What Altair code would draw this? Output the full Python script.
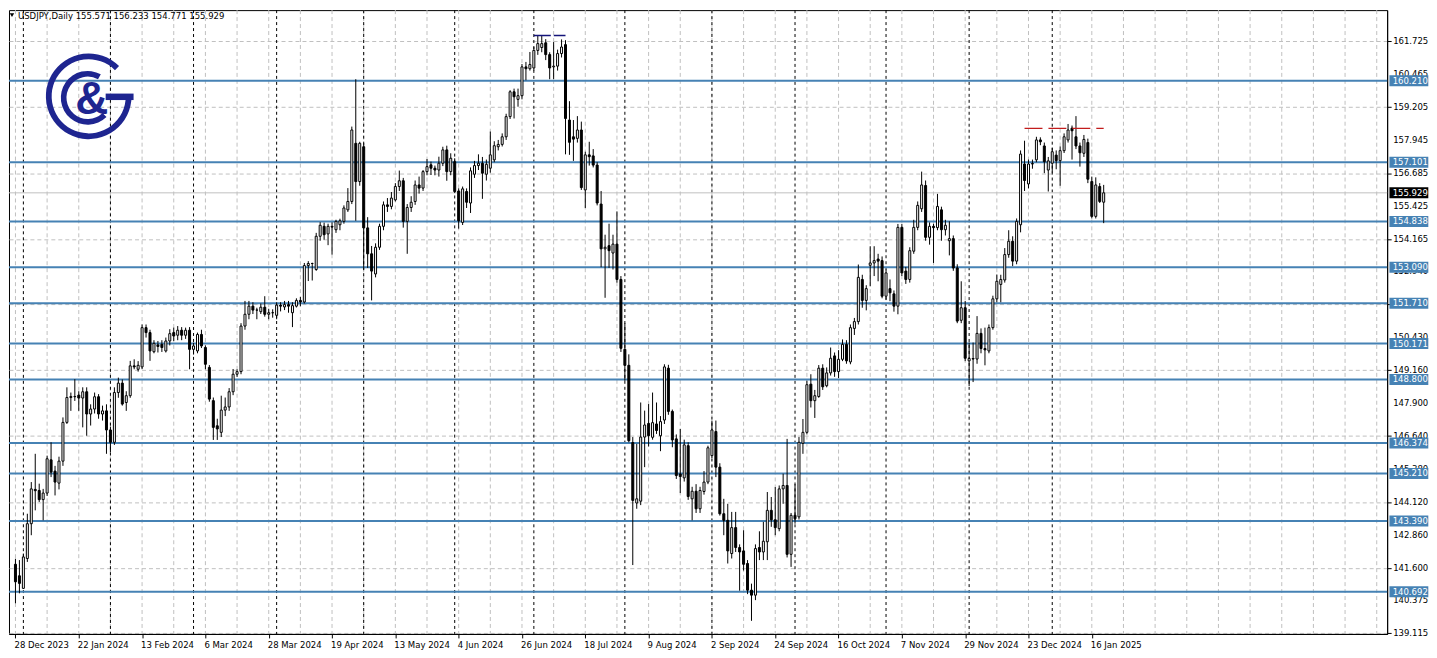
import json
import altair as alt
import pandas as pd

# ---------------- data ----------------
opens = [
    141.74, 141.30, 140.82, 141.96, 143.29, 144.60, 144.56, 144.21, 144.46, 145.73,
    145.30, 144.84, 145.68, 147.16, 148.11, 148.15, 148.20, 148.09, 148.33, 147.48,
    147.67, 148.14, 147.48, 147.60, 146.87, 146.40, 148.30, 148.66, 147.92, 148.18,
    149.32, 149.19, 149.28, 150.78, 150.59, 149.86, 150.12, 150.14, 149.89, 150.27,
    150.59, 150.49, 150.68, 150.49, 150.68, 149.95, 149.89, 150.52, 150.02, 149.26,
    147.99, 147.03, 146.78, 147.63, 147.75, 148.33, 149.00, 149.10, 150.84, 151.29,
    151.60, 151.45, 151.39, 151.56, 151.29, 151.35, 151.25, 151.64, 151.57, 151.66,
    151.35, 151.60, 151.82, 151.76, 153.15, 153.23, 153.00, 154.27, 154.65, 154.36,
    154.65, 154.52, 154.71, 154.84, 155.28, 155.60, 157.82, 156.36, 157.69, 154.59,
    153.60, 152.83, 153.85, 154.65, 155.47, 155.41, 155.66, 156.17, 156.39, 154.84,
    155.37, 155.60, 156.23, 156.11, 156.74, 157.00, 156.87, 156.80, 157.06, 157.57,
    156.74, 157.12, 156.00, 154.80, 155.98, 155.54, 156.64, 156.97, 157.06, 156.64,
    156.87, 157.19, 157.69, 157.78, 158.07, 158.84, 159.79, 159.50, 159.64, 160.74,
    160.67, 160.70, 161.37, 161.48, 161.66, 161.21, 160.74, 160.77, 161.25, 161.59,
    158.71, 158.07, 158.01, 158.33, 156.04, 157.38, 157.34, 156.99, 155.50, 153.79,
    153.91, 153.63, 153.97, 152.62, 149.95, 149.34, 146.39, 144.08, 144.15, 146.60,
    147.12, 146.59, 147.10, 146.65, 147.25, 149.23, 147.58, 146.53, 145.19, 145.04,
    146.27, 144.24, 144.53, 143.86, 144.52, 144.88, 145.89, 146.81, 145.45, 143.67,
    143.42, 142.15, 143.14, 142.38, 142.25, 141.77, 140.75, 140.56, 142.38, 142.21,
    142.60, 143.80, 143.44, 143.10, 144.62, 144.75, 142.12, 143.61, 143.55, 146.36,
    146.78, 148.62, 147.99, 148.15, 149.23, 148.56, 149.05, 149.70, 149.10, 149.57,
    150.14, 149.47, 150.75, 151.01, 152.62, 151.82, 153.16, 153.25, 153.40, 153.34,
    151.98, 152.27, 152.07, 151.60, 154.61, 152.94, 152.62, 153.70, 154.61, 155.32,
    156.21, 154.23, 154.65, 154.60, 155.28, 154.52, 154.10, 154.18, 153.06, 151.06,
    151.54, 149.51, 149.60, 149.58, 150.56, 149.98, 149.89, 150.78, 151.88, 152.43,
    152.60, 153.57, 154.08, 153.32, 154.71, 157.03, 156.27, 157.03, 157.19, 157.95,
    157.72, 156.80, 157.06, 157.37, 157.16, 157.54, 157.95, 158.40, 158.07, 157.72,
    157.44, 157.85, 156.36, 155.03, 156.17, 155.571,
]
highs = [
    141.95, 141.90, 142.15, 143.67, 144.88, 145.96, 144.82, 144.62, 145.89, 146.40,
    145.50, 145.85, 147.35, 148.50, 148.30, 148.81, 148.35, 148.50, 148.50, 147.85,
    148.30, 148.24, 147.80, 147.85, 147.00, 148.50, 148.87, 148.80, 148.35, 149.51,
    149.57, 149.50, 150.90, 150.90, 150.70, 150.30, 150.27, 150.30, 150.40, 150.72,
    150.78, 150.84, 150.80, 150.78, 150.80, 150.20, 150.59, 150.70, 150.10, 149.35,
    148.11, 147.30, 148.18, 148.11, 148.47, 149.20, 149.19, 150.95, 151.80, 151.80,
    151.75, 151.54, 151.70, 151.98, 151.50, 151.48, 151.75, 151.75, 151.80, 151.80,
    151.75, 151.90, 151.95, 153.25, 153.32, 153.26, 154.40, 154.81, 154.79, 154.75,
    154.80, 154.90, 154.94, 155.45, 156.11, 158.46, 160.27, 157.88, 157.82, 155.00,
    153.90, 154.00, 154.75, 155.60, 155.73, 155.96, 156.30, 156.78, 156.50, 155.50,
    155.80, 156.40, 156.55, 156.80, 157.22, 157.12, 156.97, 157.31, 157.69, 157.73,
    157.44, 157.25, 156.10, 156.17, 156.10, 156.90, 157.15, 157.40, 157.30, 157.20,
    158.27, 157.90, 157.95, 158.20, 158.95, 159.85, 159.91, 159.91, 160.85, 160.93,
    161.31, 161.50, 161.94, 161.94, 161.80, 161.30, 161.69, 161.40, 161.79, 161.76,
    159.43, 158.71, 158.86, 158.65, 157.50, 157.88, 157.60, 157.10, 156.00, 154.33,
    154.75, 154.33, 155.22, 152.75, 150.95, 149.76, 146.60, 146.34, 147.92, 147.61,
    147.86, 148.30, 147.92, 147.40, 149.38, 149.36, 147.65, 146.70, 146.91, 146.50,
    146.40, 144.70, 144.80, 144.70, 145.30, 146.27, 147.23, 147.23, 145.60, 144.24,
    144.05, 143.74, 143.74, 142.50, 143.04, 141.90, 141.00, 142.50, 143.00, 143.36,
    144.50, 144.31, 144.69, 144.75, 145.20, 146.53, 143.70, 144.80, 146.60, 147.29,
    148.75, 149.00, 148.40, 149.35, 149.38, 149.26, 150.02, 149.83, 149.92, 150.33,
    150.30, 150.90, 151.15, 153.19, 152.80, 152.40, 153.89, 153.89, 153.60, 153.50,
    153.00, 152.62, 152.20, 154.74, 154.74, 153.10, 153.85, 154.90, 155.60, 156.74,
    156.40, 154.80, 154.75, 155.89, 155.40, 154.90, 154.84, 154.30, 153.20, 152.55,
    151.80, 150.21, 150.21, 151.22, 150.75, 150.78, 150.90, 152.00, 152.81, 152.80,
    153.82, 154.50, 154.27, 154.95, 157.55, 157.92, 157.20, 157.20, 158.07, 158.05,
    157.85, 157.30, 157.65, 157.55, 157.70, 158.20, 158.56, 158.50, 158.86, 157.85,
    158.14, 158.00, 156.55, 156.52, 156.30, 156.233,
]
lows = [
    140.25, 140.63, 140.80, 141.83, 142.85, 143.80, 144.12, 143.42, 144.35, 145.07,
    144.37, 144.60, 145.50, 147.10, 147.60, 147.98, 147.60, 146.97, 146.65, 147.04,
    147.50, 147.30, 147.23, 145.96, 146.02, 146.30, 148.10, 147.80, 147.60, 148.10,
    149.19, 149.10, 149.20, 150.40, 149.51, 149.80, 149.83, 149.85, 149.83, 150.10,
    150.27, 150.30, 150.30, 150.35, 149.19, 149.75, 149.80, 150.00, 149.19, 147.95,
    146.49, 146.49, 146.60, 147.40, 147.60, 148.20, 148.90, 149.00, 150.70, 151.10,
    151.30, 151.10, 151.30, 151.20, 151.10, 151.16, 151.10, 151.40, 151.45, 151.35,
    150.80, 151.55, 151.60, 151.70, 152.56, 152.58, 152.95, 154.10, 154.14, 153.93,
    153.57, 154.40, 154.50, 154.75, 155.20, 155.50, 154.86, 156.20, 153.00, 153.06,
    151.82, 152.70, 153.75, 154.50, 155.20, 155.30, 155.60, 156.00, 154.60, 153.60,
    155.20, 155.47, 155.90, 156.00, 156.60, 156.61, 156.60, 156.55, 156.95, 156.39,
    156.60, 155.92, 154.56, 154.70, 155.35, 155.16, 156.50, 156.80, 155.70, 156.40,
    156.70, 157.10, 157.55, 157.70, 157.95, 158.75, 158.77, 159.22, 159.50, 160.23,
    160.60, 160.60, 161.20, 161.30, 161.00, 160.27, 160.27, 160.60, 161.10, 157.40,
    157.38, 157.15, 157.85, 156.04, 155.35, 156.97, 156.90, 155.45, 153.09, 151.92,
    153.06, 153.00, 152.50, 149.85, 148.75, 146.40, 141.71, 143.86, 144.00, 145.45,
    146.24, 146.50, 146.72, 146.06, 147.10, 147.45, 146.21, 145.00, 144.46, 144.90,
    144.20, 143.42, 143.70, 143.70, 144.40, 144.80, 145.80, 145.07, 143.60, 142.85,
    141.77, 141.96, 142.21, 140.73, 141.50, 140.60, 139.58, 140.37, 141.90, 141.90,
    141.90, 143.17, 142.85, 143.00, 144.05, 142.00, 141.64, 143.29, 143.45, 145.96,
    146.70, 147.73, 147.33, 148.10, 148.40, 148.50, 148.95, 148.90, 148.85, 149.50,
    149.40, 149.38, 150.50, 150.90, 151.54, 151.44, 152.36, 152.75, 152.55, 151.90,
    151.85, 151.79, 151.39, 151.29, 152.75, 152.45, 152.50, 153.60, 154.50, 155.20,
    154.10, 153.95, 153.25, 154.50, 154.10, 154.30, 153.54, 152.95, 150.95, 150.95,
    149.50, 148.55, 148.70, 149.40, 149.80, 149.34, 149.80, 150.70, 151.75, 151.75,
    152.50, 153.45, 153.13, 153.20, 154.42, 156.00, 156.10, 156.85, 157.10, 157.75,
    156.68, 155.98, 156.70, 156.83, 156.20, 157.45, 157.85, 157.20, 157.60, 156.93,
    157.30, 156.30, 154.95, 154.95, 155.54, 154.771,
]
closes = [
    141.07, 141.01, 142.02, 143.29, 144.62, 144.55, 144.21, 144.46, 145.77, 145.26,
    144.88, 145.68, 147.16, 148.11, 148.15, 148.14, 148.09, 148.33, 147.48, 147.67,
    148.14, 147.48, 147.60, 146.87, 146.40, 148.30, 148.66, 147.86, 148.18, 149.32,
    149.28, 149.34, 150.78, 150.59, 149.89, 150.18, 150.06, 150.02, 150.27, 150.55,
    150.46, 150.68, 150.49, 150.68, 149.95, 150.08, 150.52, 150.08, 149.38, 148.05,
    146.97, 146.91, 147.63, 147.75, 148.33, 149.00, 149.10, 150.84, 151.29, 151.60,
    151.45, 151.45, 151.56, 151.29, 151.35, 151.35, 151.64, 151.60, 151.66, 151.60,
    151.62, 151.82, 151.76, 153.15, 153.23, 153.23, 154.27, 154.69, 154.33, 154.65,
    154.62, 154.84, 154.86, 155.35, 155.60, 158.33, 156.36, 157.82, 154.59, 153.60,
    152.94, 153.85, 154.65, 155.47, 155.41, 155.73, 156.17, 156.39, 154.84, 155.37,
    155.57, 156.23, 156.11, 156.74, 156.93, 156.87, 156.80, 157.06, 157.57, 156.74,
    157.25, 155.98, 154.86, 156.08, 155.57, 156.77, 156.97, 157.06, 156.68, 157.02,
    157.38, 157.73, 157.78, 158.07, 158.84, 159.79, 159.60, 159.64, 160.74, 160.67,
    160.83, 161.37, 161.63, 161.63, 161.21, 160.70, 160.77, 161.25, 161.50, 158.77,
    157.86, 157.98, 158.33, 156.13, 157.38, 157.31, 156.99, 155.54, 153.79, 153.85,
    153.72, 153.97, 152.62, 149.99, 149.34, 146.46, 144.18, 144.24, 146.60, 147.06,
    146.65, 147.15, 146.85, 147.19, 149.28, 147.58, 146.49, 145.13, 145.09, 146.30,
    144.33, 144.53, 143.86, 144.56, 144.88, 146.19, 146.87, 145.45, 143.67, 143.42,
    142.25, 143.14, 142.38, 142.21, 141.74, 140.75, 140.56, 142.34, 142.21, 142.62,
    143.80, 143.44, 143.14, 144.62, 144.75, 142.12, 143.61, 143.48, 146.40, 146.78,
    148.60, 147.99, 148.18, 149.23, 148.52, 149.05, 149.61, 149.10, 149.57, 150.14,
    149.51, 150.78, 151.01, 152.70, 151.82, 152.27, 153.25, 153.34, 153.32, 151.98,
    152.87, 152.11, 151.60, 154.61, 152.87, 152.62, 153.72, 154.61, 155.45, 156.23,
    154.23, 154.65, 154.60, 155.41, 154.52, 154.69, 154.18, 153.06, 151.03, 151.54,
    149.61, 149.60, 149.58, 150.56, 149.98, 149.93, 150.78, 151.88, 152.55, 152.62,
    153.57, 154.08, 153.32, 154.84, 157.41, 156.40, 157.03, 157.05, 157.95, 157.88,
    157.12, 157.15, 157.50, 157.16, 157.54, 158.07, 158.33, 158.30, 157.72, 157.46,
    157.97, 156.45, 155.03, 156.23, 155.60, 155.929,
]

date_labels = [
    "28 Dec 2023", "22 Jan 2024", "13 Feb 2024", "6 Mar 2024", "28 Mar 2024",
    "19 Apr 2024", "13 May 2024", "4 Jun 2024", "26 Jun 2024", "18 Jul 2024",
    "9 Aug 2024", "2 Sep 2024", "24 Sep 2024", "16 Oct 2024", "7 Nov 2024",
    "29 Nov 2024", "23 Dec 2024", "16 Jan 2025",
]
date_label_bars = [0, 16, 32, 48, 64, 80, 96, 112, 128, 144, 160, 176, 192, 208, 224, 240, 256, 272]
month_start_bars = [2, 24, 45, 66, 88, 111, 131, 154, 176, 197, 220, 241, 262]
grid_bars = [0, 8, 16, 24, 32, 40, 48, 56, 64, 72, 80, 88, 96, 104, 112, 120, 128, 136,
             144, 152, 160, 168, 176, 184, 192, 200, 208, 216, 224, 232, 240, 248, 256,
             264, 272, 280, 288, 296, 304, 312, 320, 328, 336, 344]
price_ticks = [161.725, 160.465, 159.205, 157.945, 156.685, 155.425, 154.165, 152.940,
               151.680, 150.430, 149.160, 147.900, 146.640, 145.380, 144.120, 142.860,
               141.600, 140.375, 139.115]
level_values = [160.210, 157.101, 154.838, 153.090, 151.710, 150.171, 148.800,
                146.374, 145.210, 143.390, 140.692]
last_price = 155.929
top_marker = {"from": 131, "to": 139, "price": 161.94}
recent_marker = {"from": 255, "to": 275, "price": 158.39}
header_text = "USDJPY,Daily  155.571 156.233 154.771 155.929"

# ---------------- layout / style ----------------
FONT = "DejaVu Sans Condensed, Liberation Sans, sans-serif"
FS = 9.5
NAVY = "#1e2590"
BLUE = "#4682b4"
W, H = 1383, 626
BAR_PX = 4.0
X0_PX = 1.5
XMIN = -X0_PX / BAR_PX
XMAX = XMIN + W / BAR_PX
YMIN, YMAX = 139.079, 162.909

xs = alt.Scale(domain=[XMIN, XMAX], nice=False, zero=False)
ys = alt.Scale(domain=[YMIN, YMAX], nice=False, zero=False)

candles = pd.DataFrame({
    "idx": list(range(len(closes))),
    "o": opens, "h": highs, "l": lows, "c": closes,
})
one = pd.DataFrame({"k": [0]})

vgrid = alt.Chart(pd.DataFrame({"g": grid_bars})).mark_rule(
    color="#c0c0c0", strokeDash=[4, 3], strokeWidth=1
).encode(x=alt.X("g:Q", scale=xs))

seps = alt.Chart(pd.DataFrame({"m": month_start_bars})).mark_rule(
    color="black", strokeDash=[3, 3], strokeWidth=1
).encode(x=alt.X("m:Q", scale=xs))

lvl_df = pd.DataFrame({"lv": level_values, "lbl": [f"{v:.3f}" for v in level_values]})
levels = alt.Chart(lvl_df).mark_rule(color=BLUE, strokeWidth=2).encode(
    y=alt.Y("lv:Q", scale=ys))

last_df = pd.DataFrame({"p": [last_price], "lbl": [f"{last_price:.3f}"]})
lastline = alt.Chart(last_df).mark_rule(color="#c0c0c0", strokeWidth=1).encode(
    y=alt.Y("p:Q", scale=ys))

# logo
ring_outer = alt.Chart(one).mark_arc(
    radius=43, radius2=37.2, theta=1.571, theta2=7.07, color=NAVY
).encode(x=alt.value(80), y=alt.value(86.5))
ring_inner = alt.Chart(one).mark_arc(
    radius=27, radius2=21.3, theta=2.37, theta2=6.79, color=NAVY
).encode(x=alt.value(79), y=alt.value(88))
g_bar = alt.Chart(one).mark_rule(color=NAVY, strokeWidth=6.5, strokeCap="butt").encode(
    x=alt.value(97), x2=alt.value(125), y=alt.value(87))
amp = alt.Chart(one).mark_text(
    text="&", font="Liberation Sans", fontSize=46, fontWeight="bold", color=NAVY,
    align="center", baseline="alphabetic"
).encode(x=alt.value(83), y=alt.value(104))

header = alt.Chart(one).mark_text(
    text=header_text, align="left", baseline="top", font=FONT, fontSize=FS, color="black"
).encode(x=alt.value(9), y=alt.value(1))
tri = alt.Chart(one).mark_point(
    shape="triangle-down", size=20, filled=True, color="black", opacity=1, strokeWidth=0
).encode(x=alt.value(3), y=alt.value(5))

label_expr = json.dumps(date_labels) + "[round(datum.value / 16)]"

wicks = alt.Chart(candles).mark_rule(color="black", strokeWidth=1).encode(
    x=alt.X("idx:Q", scale=xs, title=None, axis=alt.Axis(
        values=date_label_bars, labelExpr=label_expr, orient="bottom", grid=False,
        tickSize=4, tickColor="black", domainColor="black", labelAlign="left",
        labelOffset=-1.5, labelBaseline="top", labelPadding=2, labelFont=FONT,
        labelFontSize=FS, labelColor="black", labelOverlap=False, labelFlush=False,
        title=None)),
    y=alt.Y("l:Q", scale=ys, title=None, axis=alt.Axis(
        values=price_ticks, orient="right", grid=True, labels=False,
        gridColor="#c0c0c0", gridDash=[4, 3], tickSize=4, tickColor="black",
        domainColor="black", title=None)),
    y2="h:Q",
)

bodies = alt.Chart(candles).mark_bar(width=2, stroke="black", strokeWidth=1).encode(
    x=alt.X("idx:Q", scale=xs),
    y=alt.Y("o:Q", scale=ys),
    y2="c:Q",
    fill=alt.condition("datum.c >= datum.o", alt.value("white"), alt.value("black")),
)

tick_df = pd.DataFrame({"t": price_ticks, "lbl": [f"{v:.3f}" for v in price_ticks]})
tick_text = alt.Chart(tick_df).mark_text(
    align="left", baseline="middle", font=FONT, fontSize=FS, color="black"
).encode(x=alt.value(1389), y=alt.Y("t:Q", scale=ys), text="lbl:N")

mk_top = alt.Chart(pd.DataFrame({"a": [top_marker["from"]], "b": [top_marker["to"]],
                                 "p": [top_marker["price"]]})).mark_rule(
    color="#14147a", strokeWidth=1.3, strokeDash=[17, 3]
).encode(x=alt.X("a:Q", scale=xs), x2="b:Q", y=alt.Y("p:Q", scale=ys))

mk_recent = alt.Chart(pd.DataFrame({"a": [recent_marker["from"]], "b": [recent_marker["to"]],
                                    "p": [recent_marker["price"]]})).mark_rule(
    color="#c21c1c", strokeWidth=1.3, strokeDash=[18, 6]
).encode(x=alt.X("a:Q", scale=xs), x2="b:Q", y=alt.Y("p:Q", scale=ys))

BOX = "M-1,-0.282H1V0.282H-1Z"
boxes = alt.Chart(lvl_df).mark_point(
    shape=BOX, size=1521, filled=True, color=BLUE, opacity=1, strokeWidth=0
).encode(x=alt.value(1404.8), y=alt.Y("lv:Q", scale=ys))
box_text = alt.Chart(lvl_df).mark_text(
    align="left", baseline="middle", font=FONT, fontSize=FS, color="white"
).encode(x=alt.value(1388.5), y=alt.Y("lv:Q", scale=ys), text="lbl:N")

last_box = alt.Chart(last_df).mark_point(
    shape=BOX, size=1521, filled=True, color="black", opacity=1, strokeWidth=0
).encode(x=alt.value(1404.8), y=alt.Y("p:Q", scale=ys))
last_text = alt.Chart(last_df).mark_text(
    align="left", baseline="middle", font=FONT, fontSize=FS, color="white"
).encode(x=alt.value(1388.5), y=alt.Y("p:Q", scale=ys), text="lbl:N")

chart = alt.layer(
    vgrid, seps, levels, lastline,
    ring_outer, ring_inner, g_bar, amp, header, tri,
    wicks, bodies, mk_top, mk_recent, tick_text,
    boxes, box_text, last_box, last_text,
).properties(width=W, height=H, padding=0).configure_view(stroke="black", strokeWidth=1)

chart.save("out.html", embed_options={"renderer": "svg", "actions": False})
